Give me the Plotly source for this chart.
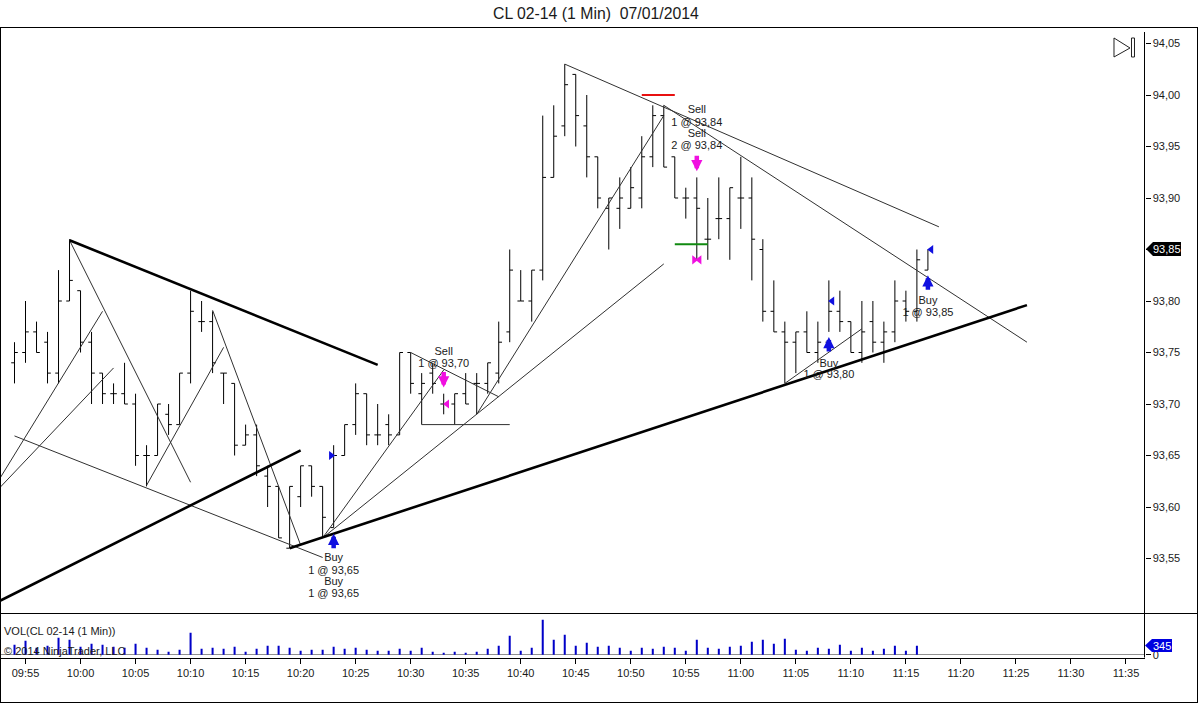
import pandas as pd
import plotly.graph_objects as go

W, H = 1198, 703
DAY = "2014-01-07 "
TITLE = "CL 02-14 (1 Min)\u00a0\u00a007/01/2014"

first_bar = "09:54"
opens = [93.74,93.75,93.77,93.76,93.73,93.80,93.81,93.76,93.73,93.71,93.71,93.70,93.65,93.65,93.69,93.68,93.73,93.78,93.78,93.73,93.72,93.66,93.67,93.63,93.62,93.56,93.61,93.64,93.62,93.58,93.65,93.68,93.71,93.67,93.68,93.67,93.75,93.71,93.73,93.70,93.70,93.71,93.72,93.72,93.73,93.77,93.80,93.80,93.83,93.92,93.97,94.02,93.97,93.94,93.89,93.89,93.89,93.90,93.94,93.98,93.94,93.90,93.90,93.86,93.88,93.88,93.90,93.90,93.85,93.79,93.77,93.76,93.77,93.75,93.76,93.79,93.78,93.75,93.78,93.76,93.77,93.80,93.79,93.83]
highs = [93.76,93.80,93.78,93.77,93.83,93.86,93.81,93.77,93.73,93.72,93.74,93.71,93.66,93.70,93.70,93.73,93.81,93.80,93.79,93.73,93.72,93.68,93.68,93.64,93.62,93.62,93.64,93.64,93.62,93.66,93.68,93.72,93.71,93.70,93.69,93.75,93.75,93.73,93.74,93.71,93.71,93.73,93.73,93.74,93.78,93.85,93.83,93.83,93.98,93.99,94.03,94.02,94.00,93.94,93.90,93.92,93.93,93.96,93.99,93.99,93.94,93.91,93.92,93.90,93.92,93.91,93.94,93.92,93.86,93.82,93.78,93.77,93.79,93.78,93.82,93.81,93.78,93.80,93.80,93.78,93.82,93.81,93.85,93.85]
lows = [93.72,93.74,93.75,93.72,93.72,93.80,93.75,93.70,93.70,93.70,93.70,93.64,93.62,93.65,93.67,93.68,93.72,93.77,93.73,93.70,93.65,93.66,93.63,93.60,93.57,93.56,93.60,93.61,93.57,93.58,93.65,93.67,93.66,93.66,93.66,93.67,93.71,93.68,93.71,93.69,93.68,93.70,93.69,93.71,93.72,93.76,93.80,93.78,93.82,93.92,93.96,93.95,93.92,93.89,93.85,93.87,93.89,93.89,93.93,93.93,93.90,93.88,93.84,93.84,93.86,93.84,93.87,93.82,93.78,93.77,93.72,93.73,93.75,93.74,93.77,93.77,93.75,93.74,93.75,93.74,93.76,93.78,93.78,93.83]
closes = [93.75,93.77,93.75,93.73,93.80,93.82,93.76,93.73,93.71,93.71,93.70,93.65,93.65,93.70,93.68,93.73,93.79,93.78,93.74,93.73,93.66,93.67,93.64,93.62,93.57,93.62,93.64,93.62,93.59,93.65,93.68,93.71,93.67,93.67,93.67,93.75,93.72,93.72,93.72,93.70,93.71,93.70,93.72,93.74,93.76,93.83,93.80,93.83,93.92,93.96,94.01,93.98,93.94,93.90,93.90,93.90,93.91,93.94,93.98,93.93,93.90,93.90,93.89,93.86,93.88,93.91,93.90,93.86,93.79,93.77,93.76,93.77,93.75,93.76,93.79,93.78,93.75,93.77,93.76,93.77,93.80,93.79,93.84,93.85]
volumes = [383,537,268,345,652,575,307,422,383,307,268,422,268,192,115,192,843,230,268,230,307,115,230,345,345,268,153,192,192,307,230,268,192,153,153,230,153,268,115,77,115,77,115,230,345,728,153,268,1342,575,767,345,460,307,345,268,153,268,230,307,268,153,575,268,230,307,345,498,575,422,613,192,153,268,230,383,153,268,153,230,345,153,345]

thick_lines = [("09:59", 93.859, "10:27", 93.738), ("09:52:41", 93.509, "10:20", 93.655), ("10:19", 93.56, "11:26", 93.796)]
thin_lines = [
    ("09:52:41", 93.628, "10:02", 93.79), ("09:52:41", 93.619, "10:03", 93.735), ("09:59", 93.859, "10:10", 93.624),
    ("09:54", 93.669, "10:22", 93.551), ("10:06", 93.621, "10:13", 93.755), ("10:12", 93.791, "10:20", 93.563),
    ("10:22", 93.57, "10:33", 93.733), ("10:22", 93.57, "10:53", 93.836), ("10:36", 93.69, "10:53", 93.98),
    ("10:30", 93.75, "10:38", 93.707), ("10:44", 94.03, "11:18", 93.872), ("10:53", 93.99, "11:26", 93.76),
    ("11:04", 93.72, "11:11", 93.773), ("10:31", 93.68, "10:39", 93.68),
]
red_line = ("10:51", 94.00, "10:54", 94.00)
green_line = ("10:54", 93.855, "10:57", 93.855)

up_arrows = [("10:23", 93.574), ("11:08", 93.765), ("11:17", 93.825)]
down_arrows = [("10:33", 93.716), ("10:56", 93.926)]
tri_times_blue = ["10:22:46", "11:08:18", "11:17:18"]
tri_prices_blue = [93.65, 93.80, 93.85]
tri_syms_blue = ["triangle-right", "triangle-left", "triangle-left"]
tri_times_mag = ["10:33:18", "10:55:46", "10:56:14"]
tri_prices_mag = [93.70, 93.84, 93.84]
tri_syms_mag = ["triangle-left", "triangle-right", "triangle-left"]

note_times = ["10:23"] * 4 + ["10:33"] * 2 + ["10:56"] * 4 + ["11:08"] * 2 + ["11:17"] * 2
note_prices = [93.55, 93.538, 93.527, 93.515, 93.75, 93.739, 93.985, 93.973, 93.962, 93.95, 93.739, 93.728, 93.80, 93.788]
note_texts = ["Buy", "1 @ 93,65", "Buy", "1 @ 93,65", "Sell", "1 @ 93,70", "Sell", "1 @ 93,84", "Sell", "2 @ 93,84", "Buy", "1 @ 93,80", "Buy", "1 @ 93,85"]

price_ticks = [93.55, 93.60, 93.65, 93.70, 93.75, 93.80, 93.85, 93.90, 93.95, 94.00, 94.05]
FONT = "Liberation Sans"
INK = "#1a1a1a"
BLUE = "#1010e0"
MAGENTA = "#f010e0"


def T(s):
    return DAY + (s if s.count(":") == 2 else s + ":00")


def px(x):
    return x / W


def py(y):
    return 1 - y / H


times = [str(t) for t in pd.date_range(T(first_bar), periods=len(opens), freq="min")]
fig = go.Figure()
fig.add_trace(go.Bar(x=times[:len(volumes)], y=volumes, yaxis="y2", width=11000, marker=dict(color="#0000c8", line_width=0), hoverinfo="skip"))
fig.add_trace(go.Ohlc(x=times, open=opens, high=highs, low=lows, close=closes, tickwidth=0.3, hoverinfo="skip",
                      increasing=dict(line=dict(color="black", width=1)), decreasing=dict(line=dict(color="black", width=1))))


def add_lines(lines, color, width):
    xs, ys = [], []
    for a, b, c, d in lines:
        xs += [T(a), T(c), None]
        ys += [b, d, None]
    fig.add_trace(go.Scatter(x=xs, y=ys, mode="lines", line=dict(color=color, width=width), hoverinfo="skip"))


add_lines(thin_lines, "#303030", 1)
add_lines(thick_lines, "black", 2.6)
add_lines([red_line], "#e81010", 2)
add_lines([green_line], "#108a10", 2)

fig.add_trace(go.Scatter(x=[T(t) for t in tri_times_blue], y=tri_prices_blue, mode="markers", hoverinfo="skip",
                         marker=dict(symbol=tri_syms_blue, size=8, color=BLUE)))
fig.add_trace(go.Scatter(x=[T(t) for t in tri_times_mag], y=tri_prices_mag, mode="markers", hoverinfo="skip",
                         marker=dict(symbol=tri_syms_mag, size=8, color=MAGENTA)))
fig.add_trace(go.Scatter(x=[T(t) for t in note_times], y=note_prices, text=note_texts, mode="text", hoverinfo="skip",
                         textposition="middle center", textfont=dict(family=FONT, size=11, color=INK)))

x0 = pd.Timestamp(T("09:55")) - pd.Timedelta(minutes=25.5 / 11)
x1 = x0 + pd.Timedelta(minutes=1144 / 11)
annotations = []
for t, p in up_arrows:
    annotations.append(dict(x=T(t), y=p, xref="x", yref="y", ax=0, ay=16, showarrow=True, arrowcolor=BLUE,
                            arrowwidth=4.5, arrowhead=2, arrowsize=0.5, text=""))
for t, p in down_arrows:
    annotations.append(dict(x=T(t), y=p, xref="x", yref="y", ax=0, ay=-17, showarrow=True, arrowcolor=MAGENTA,
                            arrowwidth=4.5, arrowhead=2, arrowsize=0.5, text=""))


def paper_text(text, x, y, anchor="left", color=INK, size=11):
    annotations.append(dict(text=text, x=px(x), y=py(y), xref="paper", yref="paper", xanchor=anchor, yanchor="middle",
                            showarrow=False, font=dict(family=FONT, size=size, color=color), borderpad=0))


paper_text(TITLE, 596, 13, "center", size=15.8)
paper_text("VOL(CL 02-14 (1 Min))", 2.5, 631)
paper_text("\u00a9 2014 NinjaTrader, LLC", 2.5, 651)


def rect_line(x0_, y0_, x1_, y1_, width=1):
    return dict(type="line", xref="paper", yref="paper", x0=px(x0_), y0=py(y0_), x1=px(x1_), y1=py(y1_), line=dict(color="black", width=width))


def poly(points, fill=None, line="#222222"):
    d = "M" + " L".join(f"{px(a):.5f},{py(b):.5f}" for a, b in points) + " Z"
    return dict(type="path", xref="paper", yref="paper", path=d, fillcolor=fill or "rgba(0,0,0,0)",
                line=dict(color=line, width=1 if fill is None else 0))


shapes = [
    rect_line(0, 27.5, W, 27.5), rect_line(0.5, 27.5, 0.5, H), rect_line(0, 702.5, W, 702.5), rect_line(1197.5, 27.5, 1197.5, H),
    rect_line(0, 613.5, W, 613.5), rect_line(1144.5, 32, 1144.5, 657.5),
    poly([(1114, 38), (1130, 48), (1114, 57)]), poly([(1131.5, 38), (1134.5, 38), (1134.5, 57), (1131.5, 57)]),
    poly([(1146, 249), (1153, 242), (1181, 242), (1181, 256), (1153, 256)], fill="black"),
    poly([(1145, 645.5), (1152, 639), (1172, 639), (1172, 652), (1152, 652)], fill="#0000e0"),
]
paper_text("93,85", 1167, 249, "center", "white")
paper_text("345", 1161.5, 645.5, "center", "white")

fig.update_layout(
    width=W, height=H, margin=dict(l=0, r=0, t=0, b=0, pad=0, autoexpand=False), autosize=False, showlegend=False,
    paper_bgcolor="white", plot_bgcolor="white", separators=",.",
    shapes=shapes, annotations=annotations,
    font=dict(family=FONT, size=11, color=INK),
    xaxis=dict(type="date", domain=[0, 1144.5 / W], range=[str(x0), str(x1)], anchor="y2", tick0=T("09:55"), dtick=300000, tickformat="%H:%M", automargin=False,
               showgrid=False, showline=True, linecolor="black", linewidth=1, ticks="outside", ticklen=5, tickcolor="black",
               tickfont=dict(family=FONT, size=11, color=INK), rangeslider=dict(visible=False), zeroline=False),
    yaxis=dict(domain=[py(613.5), py(27.5)], range=[94.05 - 570 / 1030, 94.05 + 16 / 1030], side="right", anchor="x", tickvals=price_ticks, tickformat=".2f",
               showgrid=False, ticks="outside", ticklen=5, tickcolor="black", tickfont=dict(family=FONT, size=11, color=INK), zeroline=False, showline=False, automargin=False),
    yaxis2=dict(domain=[py(657.5), py(613.5)], range=[-107, 1579], side="right", anchor="x", tickvals=[0], showgrid=False, ticks="outside", ticklen=5, tickcolor="black",
                tickfont=dict(family=FONT, size=11, color=INK), zeroline=True, zerolinecolor="#909090", zerolinewidth=1, showline=False, automargin=False),
)

fig.write_html("out.html", config={"displayModeBar": False}, post_script="""
document.documentElement.style.cssText='margin:0;padding:0;height:703px;overflow:hidden';
document.body.style.cssText='margin:0;padding:0;height:703px;overflow:hidden';
var g=document.querySelector('.plotly-graph-div');g.style.display='block';g.parentElement.style.cssText='height:703px;overflow:hidden';
""")
